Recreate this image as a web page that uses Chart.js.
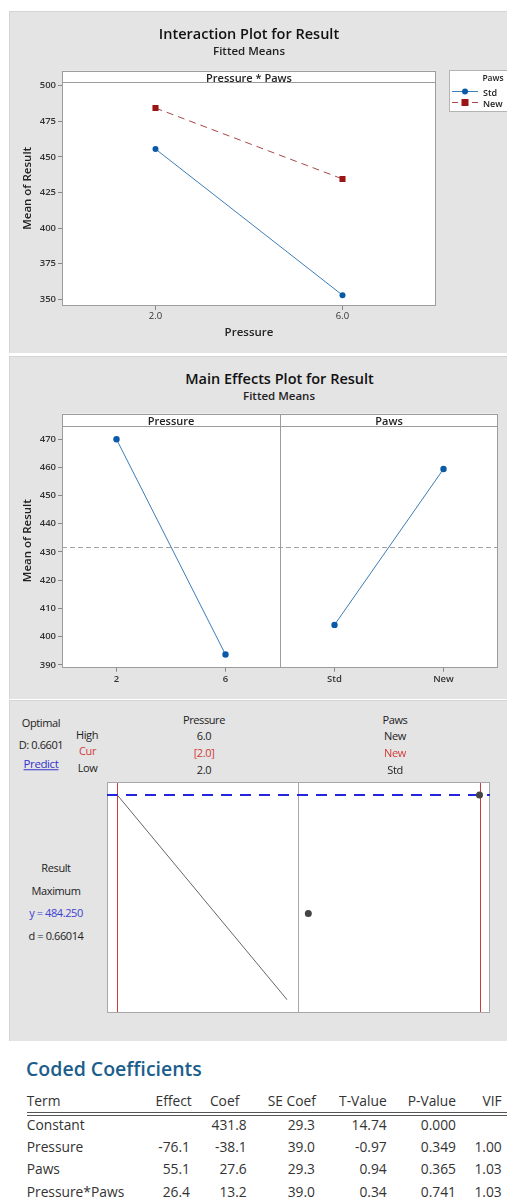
<!DOCTYPE html>
<html>
<head>
<meta charset="utf-8">
<script src="https://cdn.jsdelivr.net/npm/chart.js@4.4.1/dist/chart.umd.min.js"></script>
<style>
  html, body { margin: 0; padding: 0; background: #fff; }
  #page { position: relative; width: 507px; height: 1201px; overflow: hidden; font-family: 'Open Sans', sans-serif; color: #222; }
  .panel { position: absolute; left: 9px; right: 0; background: #e4e4e4; border-top: 1px solid #d4d4d4; border-left: 1px solid #d4d4d4; }
  .plotbg { position: absolute; background: #fff; }
  .t { position: absolute; white-space: nowrap; line-height: 1; }
  canvas { position: absolute; opacity: 1 !important; filter: none !important; mix-blend-mode: normal !important; background-color: transparent !important; background-repeat: no-repeat !important; }
  #interaction { background-image: linear-gradient(#fff, #fff) !important; background-position: 53px 11px !important; background-size: 374px 235px !important; }
  #mainEffects { background-image: linear-gradient(#fff, #fff) !important; background-position: 53px 10px !important; background-size: 436px 254px !important; }
  #optPressure, #optPaws { background-color: #fff !important; }
  .legend { position: absolute; left: 449px; top: 70px; width: 80px; height: 40px; background: #fff; border: 1px solid #b4b4b4; }
  .rule { position: absolute; left: 27px; right: 0; height: 1px; background: #555; }
</style>
</head>
<body>
<div id="page">
  <div class="panel" style="top:11px;height:341px"></div>
  <div class="panel" style="top:356px;height:342px"></div>
  <div class="panel" style="top:700px;height:340px"></div>

  <div class="plotbg" style="left:62px;top:71px;width:374px;height:235px"></div>
  <div class="plotbg" style="left:62px;top:414px;width:436px;height:254px"></div>
  <div class="plotbg" style="left:107px;top:782px;width:383px;height:231px"></div>

  <canvas id="interaction" width="428" height="292" style="left:9px;top:60px"></canvas>
  <div class="legend"></div>
  <svg style="position:absolute;left:0;top:0" width="507" height="120">
    <line x1="452" y1="91.5" x2="478" y2="91.5" stroke="#3d7db8" stroke-width="1"/>
    <circle cx="465" cy="91.5" r="3" fill="#0b5aa9"/>
    <line x1="452" y1="102.5" x2="478" y2="102.5" stroke="#a84848" stroke-width="1" stroke-dasharray="6,4"/>
    <rect x="461.5" y="99" width="7" height="7" fill="#9c1515"/>
  </svg>

  <canvas id="mainEffects" width="490" height="294" style="left:9px;top:404px"></canvas>

  <canvas id="optPressure" width="192" height="231" style="left:107px;top:782px"></canvas>
  <canvas id="optPaws" width="192" height="231" style="left:298px;top:782px"></canvas>

  <div class="rule" style="top:1112px"></div>
  <div class="rule" style="top:1115px"></div>
</div>
<script>
// ---- data ----
const pressureLevels = [2, 6];
const pawsLevels = ['Std', 'New'];

// interaction plot, fitted means by Pressure for each Paws level
const stdFitted = [455.5, 352.9];
const newFitted = [484.3, 434.5];
const interactionTicks = [350, 375, 400, 425, 450, 475, 500];

// main effects plot
const pressureFitted = [469.9, 393.7];
const pawsFitted = [404.2, 459.4];
const grandMean = 431.8;
const mainTicks = [390, 400, 410, 420, 430, 440, 450, 460, 470];

// response optimizer
const optPressureCurve = [484.25, 434.5];   // Result vs Pressure, Paws = New
const optPawsPoints = [455.5, 484.25];      // Result vs Paws, Pressure = 2.0
const optCurPressure = 2;
const optCurPaws = 'New';
const optY = 484.25;

// coded coefficients table
const terms = ['Constant', 'Pressure', 'Paws', 'Pressure*Paws'];
const effects = ['', '-76.1', '55.1', '26.4'];
const coefs = ['431.8', '-38.1', '27.6', '13.2'];
const seCoefs = ['29.3', '39.0', '29.3', '39.0'];
const tValues = ['14.74', '-0.97', '0.94', '0.34'];
const pValues = ['0.000', '0.349', '0.365', '0.741'];
const vifs = ['', '1.00', '1.03', '1.03'];

const page = document.getElementById('page');

function T(text, x, y, o = {}) {
  const d = document.createElement('div');
  d.className = 't';
  d.textContent = text;
  d.style.fontSize = (o.size || 11) + 'px';
  d.style.fontWeight = o.weight || 400;
  d.style.color = o.color || '#222';
  if (o.ls) d.style.letterSpacing = o.ls + 'px';
  if (o.under) d.style.textDecoration = 'underline';
  d.style.top = y + 'px';
  if (o.align === 'left') {
    d.style.left = x + 'px';
    d.style.transform = 'translateY(-50%)';
  } else if (o.align === 'right') {
    d.style.right = (507 - x) + 'px';
    d.style.transform = 'translateY(-50%)';
  } else {
    d.style.left = x + 'px';
    d.style.transform = 'translate(-50%,-50%)';
  }
  page.appendChild(d);
}

Chart.defaults.font.family = "'Open Sans', sans-serif";
Chart.defaults.color = '#333';

const tickFont = { size: 9.5, weight: 600 };
const axisTitleFont = { size: 11.5, weight: 600 };

function paintWhite(ctx, x, y, w, h) {
  ctx.save();
  ctx.globalCompositeOperation = 'source-over';
  ctx.globalAlpha = 1;
  ctx.fillStyle = '#ffffff';
  ctx.beginPath();
  ctx.rect(x, y, w, h);
  ctx.fill();
  ctx.restore();
}

// white plot area, then frame, strip line, divider
function frame(stripH, divider, underlay) {
  return {
    id: 'frame',
    beforeDatasetsDraw(chart) {
      const a = chart.chartArea;
      paintWhite(chart.ctx, a.left, a.top, a.right - a.left, a.bottom - a.top);
      if (underlay) underlay(chart);
    },
    afterDraw(chart) {
      const { ctx, chartArea: a } = chart;
      const l = Math.round(a.left) + 0.5, t = Math.round(a.top) + 0.5;
      const r = Math.round(a.right) - 0.5, b = Math.round(a.bottom) - 0.5;
      ctx.save();
      ctx.strokeStyle = '#9c9c9c';
      ctx.lineWidth = 1;
      ctx.strokeRect(l, t, r - l, b - t);
      ctx.beginPath();
      ctx.moveTo(l, Math.round(a.top + stripH) + 0.5);
      ctx.lineTo(r, Math.round(a.top + stripH) + 0.5);
      if (divider) {
        const x = Math.round(divider(chart)) + 0.5;
        ctx.moveTo(x, t);
        ctx.lineTo(x, b);
      }
      ctx.stroke();
      ctx.restore();
    }
  };
}

// ---- interaction plot ----
new Chart(document.getElementById('interaction'), {
  type: 'line',
  data: {
    datasets: [
      {
        label: 'Std',
        data: pressureLevels.map((p, i) => ({ x: p, y: stdFitted[i] })),
        borderColor: '#3d7db8', borderWidth: 1,
        pointRadius: 3, pointBackgroundColor: '#0b5aa9', pointBorderColor: '#0b5aa9', pointBorderWidth: 0
      },
      {
        label: 'New',
        data: pressureLevels.map((p, i) => ({ x: p, y: newFitted[i] })),
        borderColor: '#a84848', borderWidth: 1, borderDash: [7, 5],
        pointStyle: 'rect', pointRadius: 4.3, pointBackgroundColor: '#9c1515', pointBorderColor: '#9c1515', pointBorderWidth: 0
      }
    ]
  },
  options: {
    responsive: false, animation: false, events: [],
    layout: { padding: { top: 10.7, right: 1, bottom: 0, left: 0 }, autoPadding: false },
    plugins: { legend: { display: false }, tooltip: { enabled: false } },
    scales: {
      x: {
        type: 'linear', min: 0, max: 8,
        afterBuildTicks: s => { s.ticks = pressureLevels.map(v => ({ value: v })); },
        afterFit: s => { s.height = 46; },
        ticks: { callback: v => v.toFixed(1), font: { size: 9.5 }, color: '#333', padding: 1, maxRotation: 0, autoSkip: false },
        grid: { drawOnChartArea: false, tickLength: 4, color: '#888' },
        border: { display: false },
        title: { display: true, text: 'Pressure', font: axisTitleFont, color: '#222', padding: { top: 0, bottom: 12.8 } }
      },
      y: {
        min: 345.3, max: 510.5,
        afterBuildTicks: s => { s.ticks = interactionTicks.map(v => ({ value: v })); },
        afterFit: s => { s.width = 53; },
        ticks: { font: tickFont, color: '#333', padding: 2 },
        grid: { drawOnChartArea: false, tickLength: 4, color: '#888' },
        border: { display: false },
        title: { display: true, text: 'Mean of Result', font: axisTitleFont, color: '#222', padding: { top: 11.5, bottom: 0 } }
      }
    }
  },
  plugins: [frame(11.6)]
});

// ---- main effects plot ----
function drawMeanLine(chart) {
  const { ctx, chartArea: a, scales } = chart;
  const y = Math.round(scales.y.getPixelForValue(grandMean)) + 0.5;
  ctx.save();
  ctx.strokeStyle = '#a0a0a0';
  ctx.lineWidth = 1;
  ctx.setLineDash([5, 3]);
  ctx.beginPath();
  ctx.moveTo(a.left, y);
  ctx.lineTo(a.right, y);
  ctx.stroke();
  ctx.restore();
}

const mainLabels = pressureLevels.map(String).concat(pawsLevels);
new Chart(document.getElementById('mainEffects'), {
  type: 'line',
  data: {
    labels: mainLabels,
    datasets: [
      { data: pressureFitted.concat([null, null]) },
      { data: [null, null].concat(pawsFitted) }
    ].map(d => Object.assign(d, {
      borderColor: '#3d7db8', borderWidth: 1,
      pointRadius: 3.2, pointBackgroundColor: '#0b5aa9', pointBorderColor: '#0b5aa9', pointBorderWidth: 0
    }))
  },
  options: {
    responsive: false, animation: false, events: [],
    layout: { padding: { top: 9.7, right: 1, bottom: 0, left: 0 }, autoPadding: false },
    plugins: { legend: { display: false }, tooltip: { enabled: false } },
    scales: {
      x: {
        offset: true,
        afterFit: s => { s.height = 30.3; },
        ticks: { font: tickFont, color: '#333', padding: 2, maxRotation: 0, autoSkip: false },
        grid: { drawOnChartArea: false, tickLength: 4, color: '#888', offset: false },
        border: { display: false }
      },
      y: {
        min: 389.04, max: 478.96,
        afterBuildTicks: s => { s.ticks = mainTicks.map(v => ({ value: v })); },
        afterFit: s => { s.width = 53; },
        ticks: { font: tickFont, color: '#333', padding: 2 },
        grid: { drawOnChartArea: false, tickLength: 4, color: '#888' },
        border: { display: false },
        title: { display: true, text: 'Mean of Result', font: axisTitleFont, color: '#222', padding: { top: 11.5, bottom: 0 } }
      }
    }
  },
  plugins: [frame(12.3, c => (c.scales.x.getPixelForTick(1) + c.scales.x.getPixelForTick(2)) / 2, drawMeanLine)]
});

// ---- response optimizer ----
function optLines(curValue, dashOffset) {
  return {
    id: 'optLines',
    beforeDatasetsDraw(chart) {
      const { ctx, scales, width, height } = chart;
      paintWhite(ctx, 0, 0, width, height);
      ctx.save();
      ctx.strokeStyle = '#a8a8a8';
      ctx.lineWidth = 1;
      ctx.strokeRect(0.5, 0.5, width - 1, height - 1);
      const x = Math.round(scales.x.getPixelForValue(curValue)) + 0.5;
      ctx.strokeStyle = '#cc3c3a';
      ctx.beginPath();
      ctx.moveTo(x, 1);
      ctx.lineTo(x, height - 1);
      ctx.stroke();
      const y = Math.round(scales.y.getPixelForValue(optY));
      ctx.strokeStyle = '#2525dd';
      ctx.lineWidth = 2;
      ctx.setLineDash([11, 8]);
      ctx.lineDashOffset = dashOffset;
      ctx.beginPath();
      ctx.moveTo(0, y);
      ctx.lineTo(width, y);
      ctx.stroke();
      ctx.restore();
    }
  };
}

const optCommon = {
  responsive: false, animation: false, events: [],
  plugins: { legend: { display: false }, tooltip: { enabled: false } }
};

new Chart(document.getElementById('optPressure'), {
  type: 'line',
  data: {
    datasets: [{
      data: pressureLevels.map((p, i) => ({ x: p, y: optPressureCurve[i] })),
      borderColor: '#666', borderWidth: 1, pointRadius: 0
    }]
  },
  options: Object.assign({}, optCommon, {
    layout: { padding: { left: 10.3, right: 11.7, top: 0, bottom: 0 }, autoPadding: false },
    scales: {
      x: { type: 'linear', display: false, min: 2, max: 6 },
      y: { display: false, min: 431.34, max: 487.4 }
    }
  }),
  plugins: [optLines(optCurPressure, 0)]
});

new Chart(document.getElementById('optPaws'), {
  type: 'line',
  data: {
    labels: pawsLevels,
    datasets: [{
      data: optPawsPoints,
      showLine: false,
      pointRadius: 3.5, pointBackgroundColor: '#444', pointBorderColor: '#444', pointBorderWidth: 0
    }]
  },
  options: Object.assign({}, optCommon, {
    layout: { padding: { left: 10.3, right: 10.5, top: 0, bottom: 0 }, autoPadding: false },
    scales: {
      x: { display: false },
      y: { display: false, min: 431.34, max: 487.4 }
    }
  }),
  plugins: [optLines(optCurPaws, 191)]
});

// ---- texts ----
T('Interaction Plot for Result', 249, 34, { size: 14.5, weight: 600, color: '#111' });
T('Fitted Means', 249, 51, { size: 11.5, weight: 600, color: '#222' });
T('Pressure * Paws', 249, 76.5, { size: 11, weight: 600 });
T('Paws', 493, 78, { size: 8.5, weight: 600 });
T(pawsLevels[0], 483, 91.7, { size: 9, weight: 600, align: 'left' });
T(pawsLevels[1], 483, 102.7, { size: 9, weight: 600, align: 'left' });

T('Main Effects Plot for Result', 279.5, 379, { size: 14.5, weight: 600, color: '#111' });
T('Fitted Means', 279, 396, { size: 11.5, weight: 600, color: '#222' });
T('Pressure', 171, 420, { size: 11, weight: 600 });
T('Paws', 389, 420, { size: 11, weight: 600 });

const optFont = { size: 11, ls: -0.4 };
T('Optimal', 41, 721.7, optFont);
T('D: 0.6601', 41, 744, optFont);
T('Predict', 41, 764, Object.assign({ color: '#3333cc', under: true }, optFont, { size: 11.5 }));
T('High', 87, 734.3, optFont);
T('Cur', 87.5, 750, Object.assign({ color: '#d23a3a' }, optFont));
T('Low', 87.5, 766.7, optFont);
T('Pressure', 204, 719.3, optFont);
T('6.0', 204, 735, optFont);
T('[2.0]', 204, 751.7, Object.assign({ color: '#d23a3a' }, optFont));
T('2.0', 204, 769, optFont);
T('Paws', 395, 719.3, optFont);
T('New', 395, 735, optFont);
T(optCurPaws, 395, 751.7, Object.assign({ color: '#d23a3a' }, optFont));
T('Std', 395, 769, optFont);
T('Result', 56, 866.7, optFont);
T('Maximum', 56, 890, optFont);
T('y = 484.250', 56, 912.3, Object.assign({ color: '#4040d0' }, optFont));
T('d = 0.66014', 56, 935, optFont);

// ---- coded coefficients table ----
T('Coded Coefficients', 26, 1069, { size: 19.5, weight: 600, color: '#1b5e8c', align: 'left' });
const tf = { size: 13.8, color: '#333' };
T('Term', 26.7, 1100.5, Object.assign({ align: 'left' }, tf));
const headers = ['Effect', 'Coef', 'SE Coef', 'T-Value', 'P-Value', 'VIF'];
const headerRight = [191.7, 239.3, 316, 386.7, 456, 501.7];
headers.forEach((h, i) => T(h, headerRight[i], 1100.5, Object.assign({ align: 'right' }, tf)));
const valueRight = [190, 246.7, 315, 386.7, 456, 501.7];
const columns = [effects, coefs, seCoefs, tValues, pValues, vifs];
terms.forEach((term, r) => {
  const y = 1124.5 + r * 22.4;
  T(term, 26.7, y, Object.assign({ align: 'left' }, tf));
  columns.forEach((col, c) => { if (col[r]) T(col[r], valueRight[c], y, Object.assign({ align: 'right' }, tf)); });
});
</script>
</body>
</html>
